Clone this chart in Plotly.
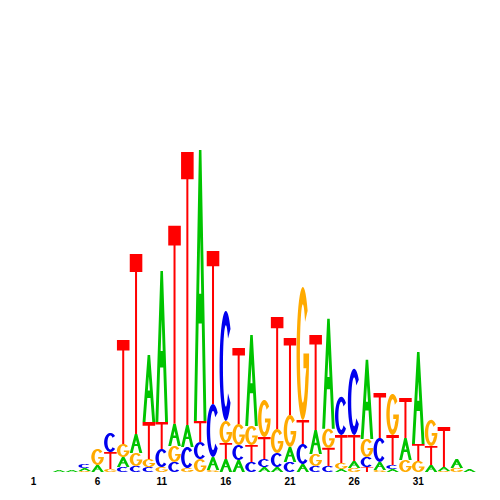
import math
import plotly.graph_objects as go

# ---- data (information content in bits, per position) ----
positions = list(range(1, 36))
A = [0, 0, 0.013, 0.013, 0.019, 0.044, 0, 0.063, 0.119, 0.419,
     0.944, 0.138, 0.138, 1.694, 0.081, 0.081, 0.075, 0.569, 0.031, 0.031,
     0.094, 0.05, 0.15, 0.688, 0.019, 0.044, 0.494, 0.05, 0.019, 0.138,
     0.575, 0.044, 0.025, 0.056, 0.019]
C = [0, 0, 0, 0, 0.025, 0, 0.119, 0.031, 0.038, 0.031,
     0.113, 0.063, 0.131, 0.106, 0.331, 0.688, 0.094, 0.063, 0.05, 0.088,
     0.063, 0.125, 0.038, 0.038, 0.238, 0.413, 0.063, 0.15, 0.025, 0,
     0, 0, 0, 0, 0]
G = [0, 0, 0, 0, 0.006, 0.1, 0.019, 0.081, 0.081, 0.05,
     0.031, 0.1, 0.025, 0.081, 0.013, 0.138, 0.131, 0.119, 0.231, 0.15,
     0.2, 0.831, 0.075, 0.119, 0.038, 0.025, 0.113, 0.013, 0.256, 0.075,
     0.069, 0.163, 0.006, 0.025, 0]
T = [0, 0, 0, 0, 0, 0, 0.106, 0.65, 1.125, 0.231,
     0.169, 1.238, 1.706, 0.131, 0.956, 0.1, 0.475, 0.106, 0.138, 0.7,
     0.481, 0.15, 0.594, 0.113, 0.175, 0.163, 0.031, 0.281, 0.188, 0.25,
     0.106, 0.119, 0.25, 0, 0]
tick_vals = [1, 6, 11, 16, 21, 26, 31]
tick_text = ["1", "6", "11", "16", "21", "26", "31"]

colors = {"A": "#00c400", "C": "#0000ee", "G": "#ffaa00", "T": "#ff0000"}

# ---- glyph outlines in a unit box ----
def arc(rx, ry, a0, a1, n=40):
    pts = []
    for i in range(n + 1):
        t = math.radians(a0 + (a1 - a0) * i / n)
        pts.append((0.5 + rx * math.cos(t), 0.5 + ry * math.sin(t)))
    return pts

SX, SY = 0.27, 0.13
glyph_C = [arc(0.5, 0.5, 42, 318) + arc(0.5 - SX, 0.5 - SY, 318, 42)]
glyph_G = [arc(0.5, 0.5, 40, 358) + [(1.0, 0.50), (0.55, 0.50), (0.55, 0.39), (0.78, 0.39)]
           + arc(0.5 - SX, 0.5 - SY, 330, 40)]
glyph_T = [[(0, 1), (1, 1), (1, 0.9), (0.58, 0.9), (0.58, 0), (0.42, 0), (0.42, 0.9), (0, 0.9)]]
glyph_A = [[(0, 0), (0.4, 1), (0.6, 1), (1, 0), (0.77, 0), (0.77 - 0.4 * 0.36, 0.36),
            (0.23 + 0.4 * 0.36, 0.36), (0.23, 0)],
           [(0.23 + 0.4 * 0.47, 0.47), (0.77 - 0.4 * 0.47, 0.47), (0.5, 0.68)]]
glyphs = {"A": glyph_A, "C": glyph_C, "G": glyph_G, "T": glyph_T}

WIDTH = 0.98

def glyph_path(letter, xc, y0, h):
    parts = []
    for poly in glyphs[letter]:
        pts = ["%.4f,%.5f" % (xc - WIDTH / 2 + u * WIDTH, y0 + v * h) for u, v in poly]
        parts.append("M" + " L".join(pts) + " Z")
    return " ".join(parts)

shapes = []
totals = []
for i, p in enumerate(positions):
    stack = sorted([("A", A[i]), ("C", C[i]), ("G", G[i]), ("T", T[i])], key=lambda s: s[1])
    y0 = 0.0
    for letter, h in stack:
        if h <= 0:
            continue
        shapes.append(dict(type="path", xref="x", yref="y", path=glyph_path(letter, p, y0, h),
                           fillcolor=colors[letter], line=dict(width=0), fillrule="evenodd",
                           layer="above"))
        y0 += h
    totals.append(y0)

fig = go.Figure(go.Scatter(x=positions, y=totals, mode="markers",
                           marker=dict(opacity=0), hoverinfo="skip", showlegend=False))
fig.update_layout(
    width=500, height=500, shapes=shapes,
    margin=dict(l=19, r=32, t=112, b=36),
    plot_bgcolor="white", paper_bgcolor="white",
    xaxis=dict(range=[0.5, 35.5], tickvals=tick_vals, ticktext=tick_text, showgrid=False,
               zeroline=False, showline=False, ticks="", ticklabelstandoff=2,
               tickfont=dict(family="Liberation Sans", size=10, color="black", weight="bold")),
    yaxis=dict(range=[0, 2.2], visible=False, showgrid=False, zeroline=False),
)
fig.write_html("out.html")
